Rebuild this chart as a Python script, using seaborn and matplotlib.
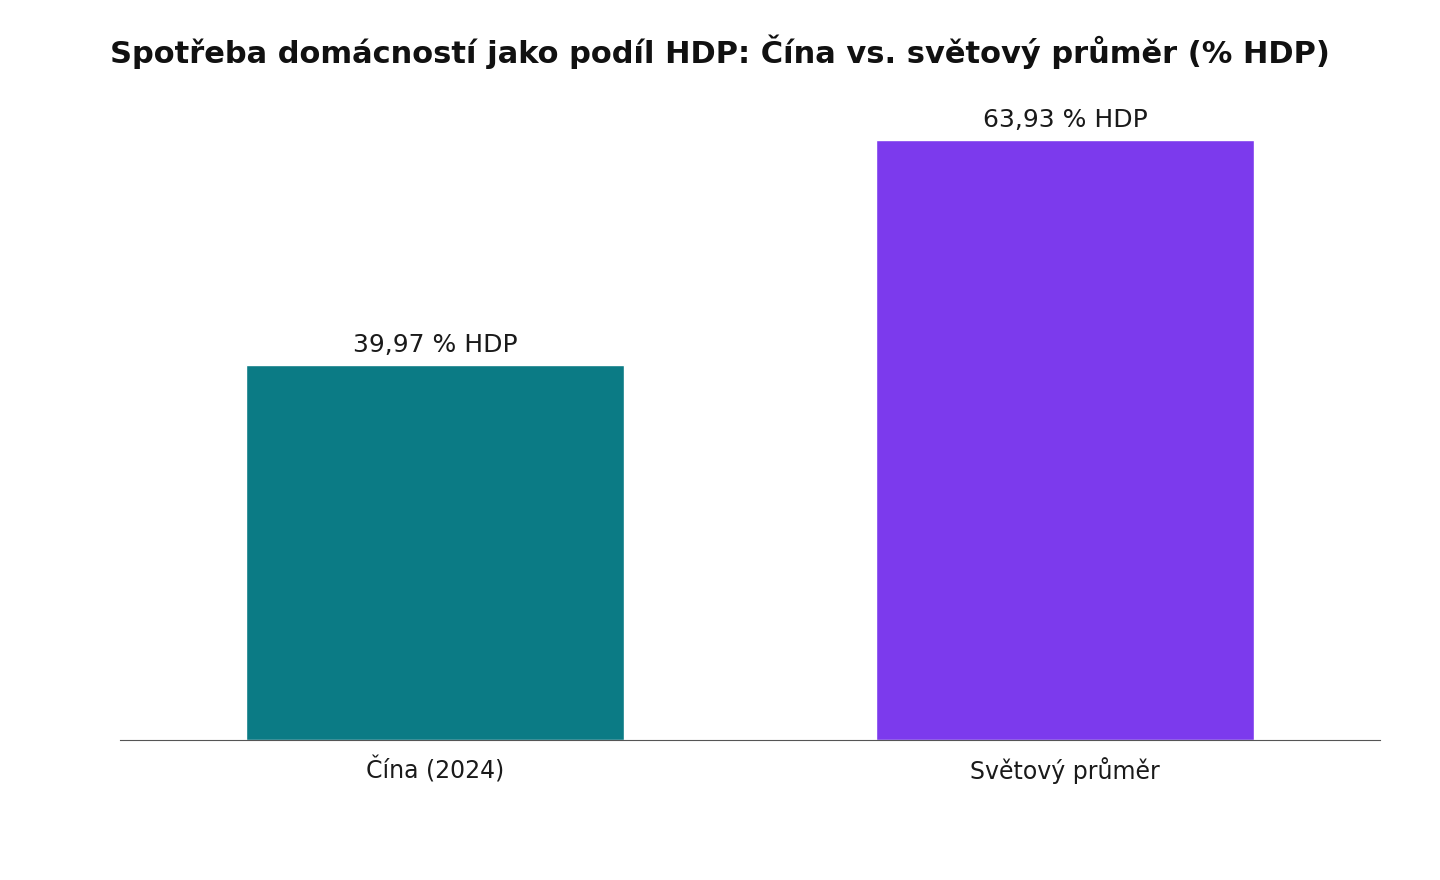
import matplotlib
matplotlib.use("Agg")
import matplotlib.pyplot as plt
import seaborn as sns
import pandas as pd

categories = ["Čína (2024)", "Světový průměr"]
values = [39.97, 63.93]
colors = ["#0b7b85", "#7c3aed"]

sns.set_style("white")
plt.rcParams['font.family'] = ['DejaVu Sans']

df = pd.DataFrame({"cat": categories, "val": values})
fig = plt.figure(figsize=(14.4, 8.8), dpi=100)
ax = fig.add_axes([120/1440, 1-740/880, 1260/1440, 660/880])
sns.barplot(data=df, x="cat", y="val", hue="cat", palette=colors, width=0.6,
            legend=False, ax=ax, saturation=1)
ax.set_xlim(-0.5, 1.5)
ax.set_ylim(0, 63.93 * 1.1)
for i, v in enumerate(values):
    ax.annotate(f"{v:.2f}".replace(".", ",") + " % HDP", (i, v), xytext=(0, 6),
                textcoords="offset points", ha="center", va="bottom", fontsize=18, color="#1a1a1a")
ax.set_xlabel("")
ax.set_ylabel("")
ax.set_yticks([])
for s in ["top", "right", "left"]:
    ax.spines[s].set_visible(False)
ax.spines["bottom"].set_color("#555555")
ax.tick_params(axis="x", labelsize=17, colors="#1a1a1a", length=0, pad=12)
fig.suptitle("Spotřeba domácností jako podíl HDP: Čína vs. světový průměr (% HDP)",
             fontsize=22, fontweight="bold", y=1-52/880, va="center", color="#111111")
fig.savefig("out.png", dpi=100)
